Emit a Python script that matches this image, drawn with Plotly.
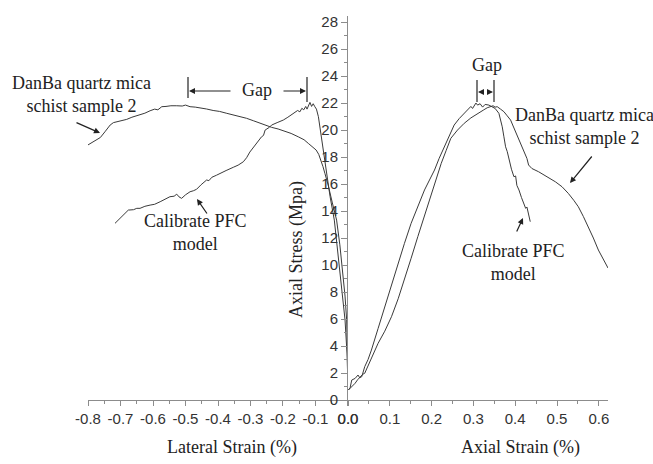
import plotly.graph_objects as go

# ---------------- data ----------------
lat_danba_x = [-0.800, -0.790, -0.775, -0.762, -0.748, -0.740, -0.732, -0.722, -0.712, -0.700,
               -0.681, -0.665, -0.652, -0.640, -0.625, -0.609, -0.595, -0.585, -0.573, -0.560,
               -0.545, -0.527, -0.510, -0.500, -0.486, -0.470, -0.455, -0.435, -0.415, -0.395,
               -0.373, -0.350, -0.330, -0.312, -0.290, -0.271, -0.250, -0.235, -0.215, -0.199,
               -0.175, -0.153, -0.135, -0.122, -0.108, -0.098, -0.090, -0.083, -0.077, -0.071,
               -0.061, -0.048, -0.035, -0.025, -0.016, -0.009, -0.004, -0.002, -0.001, -0.001]
lat_danba_y = [18.90, 19.05, 19.30, 19.45, 19.87, 20.15, 20.37, 20.55, 20.61, 20.70,
               20.79, 20.95, 21.05, 21.11, 21.25, 21.43, 21.55, 21.50, 21.73, 21.75,
               21.80, 21.80, 21.78, 21.85, 21.73, 21.70, 21.65, 21.56, 21.45, 21.38,
               21.24, 21.12, 20.98, 20.87, 20.68, 20.50, 20.35, 20.20, 20.08, 19.95,
               19.75, 19.50, 19.28, 19.01, 18.75, 18.52, 18.20, 17.78, 17.30, 16.79,
               15.93, 14.60, 13.33, 11.50, 9.63, 7.70, 5.93, 4.20, 2.74, 0.90]

lat_pfc_x = [-0.717, -0.706, -0.696, -0.686, -0.676, -0.660, -0.650, -0.640, -0.625, -0.609,
             -0.595, -0.578, -0.565, -0.548, -0.535, -0.527, -0.520, -0.512, -0.500, -0.486,
             -0.476, -0.466, -0.452, -0.445, -0.435, -0.428, -0.419, -0.405, -0.394, -0.375,
             -0.353, -0.338, -0.322, -0.312, -0.302, -0.292, -0.281, -0.272, -0.266, -0.260,
             -0.255, -0.242, -0.235, -0.218, -0.199, -0.185, -0.168, -0.155, -0.148, -0.142,
             -0.136, -0.130, -0.126, -0.121, -0.117, -0.112, -0.107, -0.102, -0.097, -0.091,
             -0.086, -0.081, -0.068, -0.055, -0.042, -0.025, -0.009, -0.003, 0.000]
lat_pfc_y = [13.09, 13.35, 13.58, 13.85, 14.07, 14.10, 14.20, 14.20, 14.35, 14.44,
             14.50, 14.69, 14.85, 15.06, 15.10, 15.25, 15.05, 14.94, 15.20, 15.43,
             15.50, 15.61, 15.95, 16.10, 16.30, 16.25, 16.50, 16.65, 16.79, 17.00,
             17.24, 17.40, 17.65, 17.95, 18.37, 18.70, 19.04, 19.30, 19.50, 19.60,
             20.00, 20.20, 20.37, 20.55, 20.74, 20.95, 21.24, 21.45, 21.35, 21.61,
             21.50, 21.75, 21.55, 21.90, 22.05, 21.75, 21.95, 21.73, 21.55, 20.99,
             20.20, 19.26, 17.04, 15.06, 13.33, 9.63, 5.93, 3.48, 1.10]

ax_pfc_x = [0.001, 0.005, 0.009, 0.017, 0.024, 0.028, 0.033, 0.040, 0.048, 0.056,
            0.072, 0.088, 0.104, 0.119, 0.135, 0.151, 0.167, 0.183, 0.195, 0.207,
            0.218, 0.230, 0.242, 0.254, 0.266, 0.278, 0.288, 0.294, 0.298, 0.302,
            0.306, 0.310, 0.316, 0.322, 0.328, 0.337, 0.345, 0.352, 0.361, 0.365,
            0.369, 0.373, 0.377, 0.381, 0.385, 0.391, 0.397, 0.401, 0.404, 0.409,
            0.415, 0.420, 0.425, 0.428, 0.432, 0.436]
ax_pfc_y = [0.74, 0.90, 1.48, 1.60, 1.85, 1.65, 1.73, 2.47, 3.00, 3.70,
            5.30, 6.91, 8.50, 10.13, 11.60, 13.09, 14.35, 15.56, 16.30, 17.04,
            17.90, 18.76, 19.60, 20.37, 20.85, 21.24, 21.50, 21.75, 21.60, 21.85,
            22.00, 21.85, 21.95, 21.70, 21.90, 21.85, 21.70, 21.60, 21.24, 20.80,
            20.24, 19.50, 18.76, 18.40, 17.78, 17.10, 16.54, 16.60, 15.90, 15.56,
            15.00, 14.57, 14.20, 14.30, 13.60, 13.21]

ax_danba_x = [0.001, 0.005, 0.011, 0.017, 0.023, 0.029, 0.035, 0.040, 0.056, 0.072,
              0.088, 0.104, 0.120, 0.135, 0.151, 0.167, 0.183, 0.199, 0.211, 0.223,
              0.235, 0.246, 0.262, 0.278, 0.294, 0.310, 0.325, 0.333, 0.341, 0.347,
              0.352, 0.357, 0.365, 0.373, 0.381, 0.389, 0.395, 0.401, 0.407, 0.413,
              0.419, 0.424, 0.428, 0.432, 0.440, 0.456, 0.475, 0.496, 0.512, 0.527,
              0.540, 0.551, 0.563, 0.575, 0.587, 0.599, 0.611, 0.622]
ax_danba_y = [0.74, 0.87, 1.00, 1.24, 1.50, 1.73, 1.90, 1.98, 3.10, 4.20,
              5.10, 6.17, 7.50, 8.89, 10.50, 12.10, 13.70, 15.31, 16.50, 17.53,
              18.50, 19.39, 20.00, 20.50, 20.90, 21.24, 21.50, 21.65, 21.73, 21.80,
              21.70, 21.73, 21.55, 21.36, 21.05, 20.74, 20.30, 19.87, 19.45, 19.01,
              18.60, 18.27, 17.90, 17.41, 17.15, 16.91, 16.55, 16.17, 15.80, 15.31,
              14.80, 14.32, 13.60, 12.84, 12.00, 11.11, 10.40, 9.78]

lat_tickvals = [-0.8, -0.7, -0.6, -0.5, -0.4, -0.3, -0.2, -0.1, 0.0]
lat_ticktext = ["-0.8", "-0.7", "-0.6", "-0.5", "-0.4", "-0.3", "-0.2", "-0.1", "0.0"]
ax_tickvals = [0.0, 0.1, 0.2, 0.3, 0.4, 0.5, 0.6]
ax_ticktext = ["0.0", "0.1", "0.2", "0.3", "0.4", "0.5", "0.6"]
y_tickvals = list(range(0, 29, 2))

# ---------------- layout helpers ----------------
ML, MR, MT, MB = 88, 45, 16, 64
W, H = 653, 464
PW, PH = W - ML - MR, H - MT - MB


def P(px, py):
    return (px - ML) / PW, (MT + PH - py) / PH


AXC = "#8c8c8c"
TXT = "#333333"
LINE = "#3a3a3a"
SERIF = "Liberation Serif, Times New Roman, serif"
SANS = "Liberation Sans, Arial, sans-serif"

fig = go.Figure()
fig.add_trace(go.Scatter(x=lat_danba_x, y=lat_danba_y, xaxis="x", yaxis="y", mode="lines",
                         line=dict(color=LINE, width=1), showlegend=False))
fig.add_trace(go.Scatter(x=lat_pfc_x, y=lat_pfc_y, xaxis="x", yaxis="y", mode="lines",
                         line=dict(color=LINE, width=1), showlegend=False))
fig.add_trace(go.Scatter(x=ax_pfc_x, y=ax_pfc_y, xaxis="x2", yaxis="y", mode="lines",
                         line=dict(color=LINE, width=1), showlegend=False))
fig.add_trace(go.Scatter(x=ax_danba_x, y=ax_danba_y, xaxis="x2", yaxis="y", mode="lines",
                         line=dict(color=LINE, width=1), showlegend=False))

common_x = dict(showline=True, linecolor=AXC, linewidth=1, showgrid=False, zeroline=False,
                ticks="outside", ticklen=5, tickcolor=AXC, tickwidth=1,
                tickfont=dict(family=SANS, size=15, color=TXT), tickmode="array")

fig.update_layout(
    width=W, height=H,
    margin=dict(l=ML, r=MR, t=MT, b=MB),
    paper_bgcolor="white", plot_bgcolor="white",
    xaxis=dict(domain=[0, 0.5], range=[-0.8001, 0.0001], anchor="y",
               tickvals=lat_tickvals, ticktext=lat_ticktext,
               minor=dict(dtick=0.05, tick0=0, ticks="outside", ticklen=3, tickcolor=AXC),
               **common_x),
    xaxis2=dict(domain=[0.5, 1], range=[0, 0.622], anchor="y",
                tickvals=ax_tickvals, ticktext=ax_ticktext,
                minor=dict(dtick=0.05, tick0=0, ticks="outside", ticklen=3, tickcolor=AXC),
                **common_x),
    yaxis=dict(anchor="x2", side="left", range=[0, 28.45], showline=True, linecolor=AXC,
               linewidth=1, showgrid=False, zeroline=False, tickmode="array",
               tickvals=y_tickvals, ticks="outside", ticklen=6, tickcolor=AXC,
               minor=dict(dtick=1, tick0=0, ticks="outside", ticklen=3, tickcolor=AXC),
               tickfont=dict(family=SANS, size=15, color=TXT)),
)

anns = []


def text(px, py, s, angle=0):
    x, y = P(px, py)
    anns.append(dict(x=x, y=y, xref="paper", yref="paper", text=s, showarrow=False,
                     xanchor="center", yanchor="middle", textangle=angle,
                     font=dict(family=SERIF, size=18, color="#222222")))


def arrow(hx, hy, tx, ty):
    x, y = P(hx, hy)
    anns.append(dict(x=x, y=y, xref="paper", yref="paper", text="", showarrow=True,
                     ax=tx - hx, ay=ty - hy, arrowhead=2, arrowsize=1, arrowwidth=1.2,
                     arrowcolor="#222222", standoff=0, startstandoff=0))


text(81, 94, "DanBa quartz mica<br>schist sample 2")
text(257, 90, "Gap")
text(195, 232, "Calibrate PFC<br>model")
text(487, 65, "Gap")
text(584, 126, "DanBa quartz mica<br>schist sample 2")
text(513, 262, "Calibrate PFC<br>model")
text(296, 250, "Axial Stress (Mpa)", angle=-90)
text(232, 447, "Lateral Strain (%)")
text(520, 447, "Axial Strain (%)")

arrow(100, 133, 75, 122)
arrow(189, 91, 232, 91)
arrow(306, 91, 282, 91)
arrow(197, 199, 208, 215)
arrow(478, 92, 485, 92)
arrow(493, 92, 486, 92)
arrow(570, 183, 593, 155)
arrow(523, 218, 516, 233)

shapes = []
for bx, y0, y1 in [(188, 77, 98), (307, 77, 102), (477, 80, 102), (494, 80, 102)]:
    x, ya = P(bx, y0)
    _, yb = P(bx, y1)
    shapes.append(dict(type="line", xref="paper", yref="paper", x0=x, x1=x, y0=ya, y1=yb,
                       line=dict(color="#222222", width=1.2)))

fig.update_layout(annotations=anns, shapes=shapes)
fig.write_html("out.html")
